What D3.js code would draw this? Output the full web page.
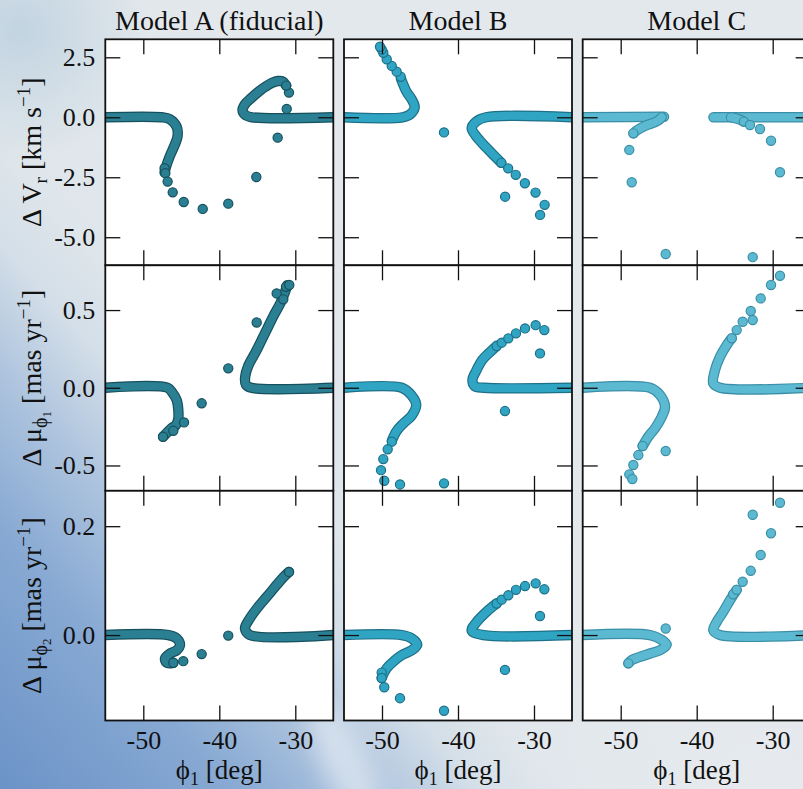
<!DOCTYPE html>
<html>
<head>
<meta charset="utf-8">
<script src="https://cdn.jsdelivr.net/npm/d3@7"></script>
<style>
  html, body { margin: 0; padding: 0; background: #e0e6eb; }
  svg { display: block; }
  text { font-family: "Liberation Serif", "DejaVu Serif", serif; fill: #111; }
</style>
</head>
<body>
<svg id="fig" width="803" height="789"></svg>
<script>
// ---- labels and ticks ----
const models = ["Model A (fiducial)", "Model B", "Model C"];
const phiTicks = [-50, -40, -30];
const vrTicks = [-5, -2.5, 0, 2.5];
const pm1Ticks = [-0.5, 0, 0.5];
const pm2Ticks = [0, 0.2];
const phiDomain = [-55, -25];
const vrDomain = [-6.17, 3.25];
const pm1Domain = [-0.663, 0.788];
const pm2Domain = [-0.157, 0.265];

// ---- radial velocity offsets (phi1 [deg], dVr [km/s]) ----
const vrA_tracks = [
  [[-55, 0], [-47.6, 0], [-46.5, -0.08], [-45.6, -0.4], [-45.5, -0.8], [-46.0, -1.25], [-46.55, -1.65], [-47.0, -2.05], [-47.2, -2.3]],
  [[-25, 0], [-35.7, 0], [-36.6, 0.1], [-36.95, 0.3], [-36.6, 0.55], [-35.8, 0.8], [-34.9, 1.05], [-34.0, 1.26], [-33.1, 1.43], [-32.3, 1.51], [-31.6, 1.48], [-31.2, 1.32]]
];
const vrA_dots = [[-47.2, -2.12], [-47.1, -2.33], [-46.8, -2.68], [-46.13, -3.13], [-44.68, -3.53], [-42.18, -3.82], [-38.82, -3.6], [-35.13, -2.49], [-32.32, -0.85], [-31.13, 0.35], [-30.83, 1.03], [-31.2, 1.32]];

const vrB_tracks = [
  [[-55, 0], [-47.3, 0], [-46.3, 0.12], [-45.7, 0.42], [-46.1, 0.75], [-46.75, 1.05], [-47.5, 1.6]],
  [[-25, 0], [-36.3, 0], [-37.6, -0.18], [-38.2, -0.45], [-37.7, -0.75], [-36.9, -1.05], [-35.7, -1.45], [-34.3, -1.9]]
];
const vrB_dots = [[-47.54, 1.69], [-48.07, 1.9], [-48.72, 2.14], [-49.38, 2.42], [-49.83, 2.69], [-50.04, 2.83], [-50.26, 2.94], [-41.84, -0.63], [-34.3, -1.9], [-33.4, -2.13], [-32.4, -2.4], [-31.2, -2.75], [-29.8, -3.14], [-28.6, -3.65], [-29.2, -4.07], [-33.8, -3.31]];

const vrC_tracks = [
  [[-55, 0], [-44.3, 0.02]],
  [[-44.6, 0], [-45.2, -0.16], [-46.8, -0.36], [-47.97, -0.57], [-48.3, -0.67]],
  [[-25, 0], [-37.8, 0]],
  [[-35.5, 0], [-34.5, -0.08], [-33.8, -0.18]]
];
const vrC_dots = [[-48.34, -0.67], [-48.87, -1.36], [-48.55, -2.71], [-44.08, -5.7], [-33.8, -0.18], [-32.99, -0.32], [-31.67, -0.49], [-30.22, -0.98], [-29.04, -2.29], [-32.63, -5.83]];

// ---- proper motion offsets along phi1 (mas/yr) ----
const pm1A_tracks = [
  [[-55, 0], [-46.8, 0], [-46.2, -0.03], [-45.6, -0.08], [-45.4, -0.14], [-45.4, -0.2], [-45.7, -0.24], [-46.3, -0.26], [-46.9, -0.29], [-47.4, -0.315]],
  [[-25, 0], [-35.8, 0], [-36.5, 0.02], [-36.6, 0.07], [-36.2, 0.14], [-35.1, 0.24], [-33.8, 0.37], [-32.9, 0.46], [-32.0, 0.54], [-31.4, 0.61], [-31.05, 0.66]]
];
const pm1A_dots = [[-44.64, -0.223], [-46.05, -0.277], [-47.4, -0.315], [-42.32, -0.1], [-38.82, 0.125], [-35.08, 0.42], [-32.45, 0.607], [-31.58, 0.569], [-31.22, 0.65], [-30.79, 0.661]];

const pm1B_tracks = [
  [[-55, 0], [-47.4, 0], [-46.1, -0.05], [-45.5, -0.11], [-46.1, -0.18], [-47.2, -0.23], [-48.1, -0.28], [-48.7, -0.34]],
  [[-25, 0], [-36.6, 0], [-37.8, 0.01], [-38.1, 0.05], [-37.6, 0.11], [-36.8, 0.18], [-36.0, 0.22], [-34.9, 0.27]]
];
const pm1B_dots = [[-48.7, -0.347], [-49.25, -0.396], [-49.83, -0.459], [-50.13, -0.53], [-49.7, -0.598], [-47.63, -0.622], [-41.84, -0.615], [-34.91, 0.268], [-34.25, 0.29], [-33.38, 0.318], [-32.37, 0.35], [-31.18, 0.382], [-29.78, 0.403], [-28.64, 0.371], [-29.21, 0.221], [-33.82, -0.15]];

const pm1C_tracks = [
  [[-55, 0], [-46.14, 0], [-44.83, -0.047], [-44.17, -0.122], [-44.6, -0.187], [-45.49, -0.261], [-46.37, -0.315], [-47.11, -0.375]],
  [[-25, 0], [-36.93, 0], [-37.82, 0.028], [-37.59, 0.114], [-36.93, 0.2], [-36.05, 0.275], [-35.39, 0.318]]
];
const pm1C_dots = [[-47.11, -0.375], [-47.68, -0.433], [-48.34, -0.497], [-48.87, -0.557], [-48.47, -0.587], [-44.08, -0.407], [-35.39, 0.318], [-34.74, 0.371], [-33.95, 0.425], [-32.89, 0.494], [-32.63, 0.436], [-31.58, 0.575], [-30.22, 0.661], [-29.04, 0.721]];

// ---- proper motion offsets along phi2 (mas/yr) ----
const pm2A_tracks = [
  [[-55, 0], [-46.71, 0], [-45.61, -0.006], [-45.17, -0.018], [-45.61, -0.028], [-46.49, -0.034], [-47.14, -0.043], [-46.92, -0.051], [-46.05, -0.051]],
  [[-25, 0], [-35.96, 0], [-36.62, 0.012], [-35.96, 0.031], [-34.87, 0.052], [-33.77, 0.07], [-32.45, 0.092], [-31.58, 0.106], [-30.83, 0.116]]
];
const pm2A_dots = [[-46.05, -0.051], [-44.74, -0.048], [-42.32, -0.035], [-38.82, -0.001], [-30.83, 0.116]];

const pm2B_tracks = [
  [[-55, 0], [-47.41, 0], [-46.09, -0.006], [-45.36, -0.018], [-46.09, -0.028], [-47.41, -0.037], [-48.51, -0.049], [-49.38, -0.061], [-50.04, -0.079]],
  [[-25, 0], [-36.67, 0], [-38.2, 0.008], [-37.54, 0.024], [-36.22, 0.043], [-34.91, 0.058]]
];
const pm2B_dots = [[-50.04, -0.069], [-50.04, -0.079], [-49.7, -0.096], [-47.63, -0.116], [-41.84, -0.139], [-34.91, 0.058], [-34.25, 0.065], [-33.38, 0.073], [-32.37, 0.083], [-31.18, 0.09], [-29.78, 0.095], [-28.64, 0.084], [-29.21, 0.035], [-33.82, -0.064]];

const pm2C_tracks = [
  [[-55, 0], [-46.14, 0], [-44.6, -0.009], [-43.95, -0.018], [-44.83, -0.028], [-46.14, -0.034], [-47.46, -0.04], [-48.55, -0.046], [-48.99, -0.052]],
  [[-25, 0], [-36.93, 0], [-37.82, 0.009], [-37.37, 0.024], [-36.5, 0.043], [-35.62, 0.064], [-34.74, 0.083]]
];
const pm2C_dots = [[-48.99, -0.052], [-44.08, 0.012], [-35.2, 0.075], [-34.74, 0.083], [-33.95, 0.098], [-32.89, 0.118], [-31.58, 0.147], [-30.22, 0.187], [-32.63, 0.221], [-29.04, 0.243]];

// ---- figure layout ----
const colLeft = [105.3, 344, 582.7];
const colWidth = 228;
const rowTop = [39.3, 265.3, 490.8];
const rowBottom = [265.3, 490.8, 720.5];
const markerFill = ["#2b7f92", "#2fa5c3", "#5bbad2"];
const markerEdge = ["#17505d", "#1d7088", "#3a8fa6"];
const fontFamily = '"Liberation Serif", "DejaVu Serif", serif';

const rows = [
  { domain: vrDomain, ticks: vrTicks, panels: [[vrA_tracks, vrA_dots], [vrB_tracks, vrB_dots], [vrC_tracks, vrC_dots]] },
  { domain: pm1Domain, ticks: pm1Ticks, panels: [[pm1A_tracks, pm1A_dots], [pm1B_tracks, pm1B_dots], [pm1C_tracks, pm1C_dots]] },
  { domain: pm2Domain, ticks: pm2Ticks, panels: [[pm2A_tracks, pm2A_dots], [pm2B_tracks, pm2B_dots], [pm2C_tracks, pm2C_dots]] }
];

const svg = d3.select("#fig");
const defs = svg.append("defs");

// sky-like backdrop
const bg = defs.append("linearGradient").attr("id", "bgGrad")
  .attr("gradientUnits", "userSpaceOnUse")
  .attr("x1", 0).attr("y1", 789).attr("x2", 520).attr("y2", 330);
[[0, "#6c93c7"], [0.25, "#87a9d3"], [0.4, "#aec4de"], [0.52, "#d3dee8"], [0.62, "#dfe6eb"], [1, "#e3e8ec"]]
  .forEach(([o, c]) => bg.append("stop").attr("offset", o).attr("stop-color", c));
const glow = defs.append("radialGradient").attr("id", "glowBR")
  .attr("gradientUnits", "userSpaceOnUse").attr("cx", 760).attr("cy", 789).attr("r", 330);
glow.append("stop").attr("offset", 0).attr("stop-color", "#e6eaee").attr("stop-opacity", 1);
glow.append("stop").attr("offset", 1).attr("stop-color", "#e6eaee").attr("stop-opacity", 0);
const corner = defs.append("radialGradient").attr("id", "cornerTL")
  .attr("gradientUnits", "userSpaceOnUse").attr("cx", 20).attr("cy", 30).attr("r", 130);
corner.append("stop").attr("offset", 0).attr("stop-color", "#bfd2e0").attr("stop-opacity", 0.9);
corner.append("stop").attr("offset", 1).attr("stop-color", "#bfd2e0").attr("stop-opacity", 0);
defs.append("filter").attr("id", "soft").attr("x", "-50%").attr("y", "-50%").attr("width", "200%").attr("height", "200%")
  .append("feGaussianBlur").attr("stdDeviation", 12);

svg.append("rect").attr("width", 803).attr("height", 789).attr("fill", "url(#bgGrad)");
svg.append("rect").attr("width", 803).attr("height", 789).attr("fill", "url(#glowBR)");
svg.append("rect").attr("width", 803).attr("height", 789).attr("fill", "url(#cornerTL)");
svg.append("ellipse").attr("cx", 345).attr("cy", 765).attr("rx", 22).attr("ry", 70)
  .attr("transform", "rotate(-25 345 765)").attr("fill", "#f2f5f8").attr("opacity", 0.55).attr("filter", "url(#soft)");

const x = d3.scaleLinear().domain(phiDomain);
const fmt = d => d3.format(".1f")(d).replace("\u2212", "-");

rows.forEach((row, ri) => {
  const y = d3.scaleLinear().domain(row.domain).range([rowBottom[ri], rowTop[ri]]);
  row.panels.forEach(([tracks, dots], ci) => {
    const xs = x.copy().range([colLeft[ci], colLeft[ci] + colWidth]);
    const h = rowBottom[ri] - rowTop[ri];
    const clipId = `clip-${ri}-${ci}`;
    defs.append("clipPath").attr("id", clipId).append("rect")
      .attr("x", colLeft[ci]).attr("y", rowTop[ri]).attr("width", colWidth).attr("height", h);

    svg.append("rect").attr("x", colLeft[ci]).attr("y", rowTop[ri])
      .attr("width", colWidth).attr("height", h).attr("fill", "#fff");

    const g = svg.append("g").attr("clip-path", `url(#${clipId})`);
    const line = d3.line().x(d => xs(d[0])).y(d => y(d[1])).curve(d3.curveCatmullRom.alpha(0.5));
    tracks.forEach(t => {
      g.append("path").attr("d", line(t)).attr("fill", "none")
        .attr("stroke", markerEdge[ci]).attr("stroke-width", 10.4)
        .attr("stroke-linecap", "round").attr("stroke-linejoin", "round");
      g.append("path").attr("d", line(t)).attr("fill", "none")
        .attr("stroke", markerFill[ci]).attr("stroke-width", 8)
        .attr("stroke-linecap", "round").attr("stroke-linejoin", "round");
    });
    g.selectAll("circle.pt").data(dots).join("circle").attr("class", "pt")
      .attr("cx", d => xs(d[0])).attr("cy", d => y(d[1])).attr("r", 4.6)
      .attr("fill", markerFill[ci]).attr("stroke", markerEdge[ci]).attr("stroke-width", 1.2);

    // inward ticks on all four sides
    const tickLen = 15;
    const axes = [
      [d3.axisBottom(xs).tickValues(phiTicks), `translate(0,${rowBottom[ri]})`, ri === 2],
      [d3.axisTop(xs).tickValues(phiTicks), `translate(0,${rowTop[ri]})`, false],
      [d3.axisLeft(y).tickValues(row.ticks), `translate(${colLeft[ci]},0)`, ci === 0],
      [d3.axisRight(y).tickValues(row.ticks), `translate(${colLeft[ci] + colWidth},0)`, false]
    ];
    axes.forEach(([ax, tr, labeled], k) => {
      ax.tickSize(-tickLen).tickPadding(k === 0 ? 10 : 10)
        .tickFormat(labeled ? (k === 0 ? d3.format("d") : fmt) : () => "");
      const ag = svg.append("g").attr("transform", tr).call(ax);
      ag.select(".domain").remove();
      ag.selectAll(".tick line").attr("stroke", "#111").attr("stroke-width", 1.3);
      ag.selectAll(".tick text").style("font-family", fontFamily).style("font-size", "26px").attr("fill", "#111")
        .text(function () { return d3.select(this).text().replace("\u2212", "-"); });
    });

    svg.append("rect").attr("x", colLeft[ci]).attr("y", rowTop[ri])
      .attr("width", colWidth).attr("height", h)
      .attr("fill", "none").attr("stroke", "#111").attr("stroke-width", 1.8);
  });
});

// column titles
models.forEach((m, ci) => {
  svg.append("text").attr("x", colLeft[ci] + colWidth / 2).attr("y", 30)
    .attr("text-anchor", "middle").style("font-size", "28px").text(m);
});

// x-axis labels
colLeft.forEach(cl => {
  const t = svg.append("text").attr("x", cl + colWidth / 2).attr("y", 778.5)
    .attr("text-anchor", "middle").style("font-size", "27px");
  t.append("tspan").text("\u03d5");
  t.append("tspan").attr("font-size", "18px").attr("dy", 6).text("1");
  t.append("tspan").attr("dy", -6).text(" [deg]");
});

// y-axis labels
function yLabel(cy, parts) {
  const t = svg.append("text").attr("transform", `translate(41,${cy}) rotate(-90)`)
    .attr("text-anchor", "middle").style("font-size", "28px");
  parts.forEach(([s, size, dy]) => t.append("tspan").attr("font-size", size + "px").attr("dy", dy).text(s));
}
const cy = ri => (rowTop[ri] + rowBottom[ri]) / 2;
yLabel(cy(0), [["\u0394 V", 28, 0], ["r", 19, 6], [" [km s", 28, -6], ["\u22121", 19, -11], ["]", 28, 11]]);
yLabel(cy(1), [["\u0394 \u03bc", 28, 0], ["\u03d5", 20, 6], ["1", 13, 4], [" [mas yr", 28, -10], ["\u22121", 19, -11], ["]", 28, 11]]);
yLabel(cy(2), [["\u0394 \u03bc", 28, 0], ["\u03d5", 20, 6], ["2", 13, 4], [" [mas yr", 28, -10], ["\u22121", 19, -11], ["]", 28, 11]]);
</script>
</body>
</html>
